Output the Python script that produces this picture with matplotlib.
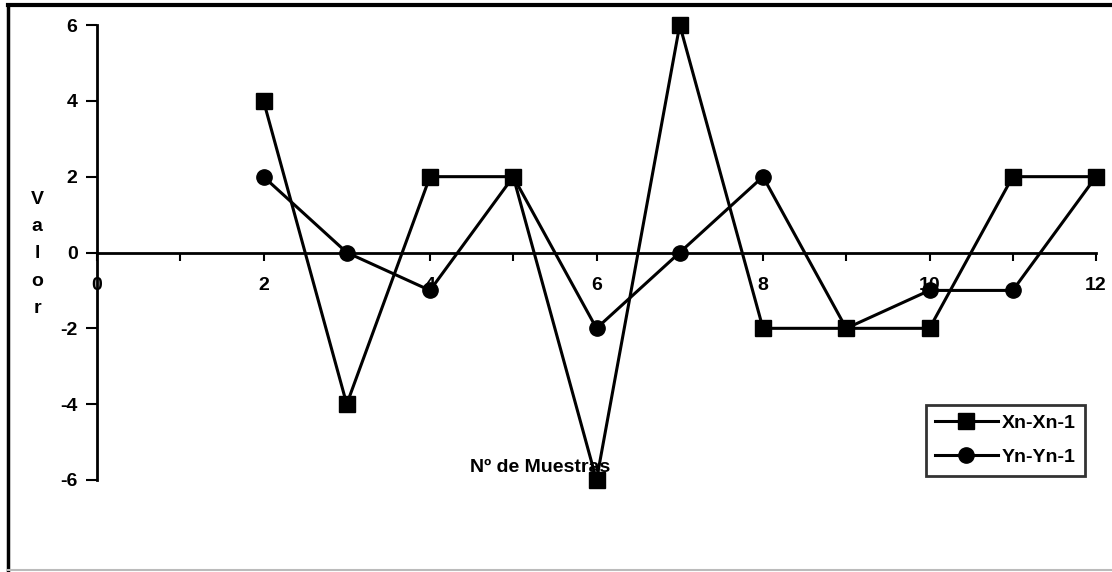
import matplotlib.pyplot as plt
from matplotlib.lines import Line2D

plt.rcParams['font.family'] = ['Liberation Sans', 'DejaVu Sans']
plt.rcParams['font.weight'] = 'bold'
plt.rcParams['axes.unicode_minus'] = False

muestras = [2, 3, 4, 5, 6, 7, 8, 9, 10, 11, 12]
xn_diff = [4, -4, 2, 2, -6, 6, -2, -2, -2, 2, 2]
yn_diff = [2, 0, -1, 2, -2, 0, 2, -2, -1, -1, 2]
x_ticks = list(range(0, 13))
x_ticklabels = ['0', '', '2', '', '4', '', '6', '', '8', '', '10', '', '12']
y_ticks = [-6, -4, -2, 0, 2, 4, 6]

fig = plt.figure(figsize=(11.12, 5.72), dpi=100)
ax = fig.add_axes([97 / 1112, 1 - 480 / 572, (1096 - 97) / 1112, (480 - 25) / 572])

ax.plot(muestras, xn_diff, color='black', lw=2.2, marker='s', ms=11,
        label='Xn-Xn-1', clip_on=False, zorder=3)
ax.plot(muestras, yn_diff, color='black', lw=2.2, marker='o', ms=11,
        label='Yn-Yn-1', clip_on=False, zorder=3)

ax.set_xlim(0, 12)
ax.set_ylim(-6, 6)
ax.spines['top'].set_visible(False)
ax.spines['right'].set_visible(False)
ax.spines['bottom'].set_position(('data', 0))
ax.spines['left'].set_linewidth(2)
ax.spines['bottom'].set_linewidth(2)

ax.set_xticks(x_ticks, x_ticklabels)
ax.tick_params(axis='x', direction='out', length=6, width=1.5, pad=12, labelsize=14)
ax.set_yticks(y_ticks)
ax.tick_params(axis='y', direction='out', length=8, width=1.5, labelsize=14, pad=6)
for lab in ax.get_xticklabels() + ax.get_yticklabels():
    lab.set_fontweight('bold')

fig.text(37 / 1112, 1 - 254 / 572, 'V\na\nl\no\nr', ha='center', va='center',
         fontsize=14, fontweight='bold', linespacing=1.8)
fig.text(540 / 1112, 1 - 467 / 572, 'Nº de Muestras', ha='center', va='center',
         fontsize=14, fontweight='bold')

leg = ax.legend(loc='lower right', bbox_to_anchor=(1085 / 1112, 1 - 476 / 572),
                bbox_transform=fig.transFigure, frameon=True, fancybox=False,
                edgecolor='black', fontsize=14, handlelength=3.2, borderpad=0.5,
                labelspacing=0.85, handletextpad=0.2, borderaxespad=0)
leg.get_frame().set_linewidth(2)
for t in leg.get_texts():
    t.set_fontweight('bold')

# outer chart border
fig.add_artist(Line2D([8 / 1112, 8 / 1112], [1 - 5 / 572, 1 - 570 / 572],
                      transform=fig.transFigure, color='black', lw=2.5))
fig.add_artist(Line2D([8 / 1112, 1], [1 - 5 / 572, 1 - 5 / 572],
                      transform=fig.transFigure, color='black', lw=3))
fig.add_artist(Line2D([8 / 1112, 1], [1 - 570 / 572, 1 - 570 / 572],
                      transform=fig.transFigure, color='#bbbbbb', lw=1.5))

fig.savefig('out.png', dpi=100)
